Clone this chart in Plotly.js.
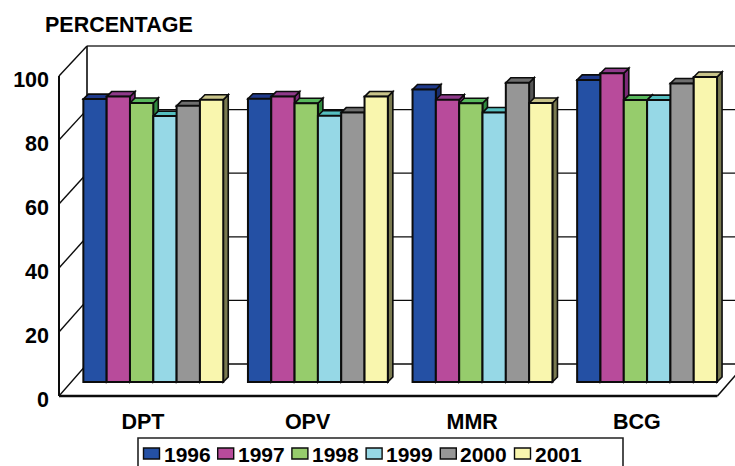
<!DOCTYPE html>
<html><head><meta charset="utf-8">
<script src="https://cdn.plot.ly/plotly-3.0.1.min.js"></script>
<style>html,body{margin:0;padding:0;background:#fff;overflow:hidden}#c{width:735px;height:466px}</style>
</head><body><div id="c"></div>
<script>
var categories = ['DPT','OPV','MMR','BCG'];
var years = ['1996','1997','1998','1999','2000','2001'];
var v1996 = [88.4, 88.5, 91.4, 94.4];
var v1997 = [89.2, 89.2, 88.2, 96.5];
var v1998 = [87.2, 87.1, 87.1, 88.1];
var v1999 = [83.1, 83.2, 84.2, 88.1];
var v2000 = [86.3, 84.2, 93.5, 93.3];
var v2001 = [88.2, 89.2, 87.2, 95.3];
var seriesValues = [v1996, v1997, v1998, v1999, v2000, v2001];
var frontColors = ['#2450A4','#B84B9B','#96CC6C','#96D8E6','#969696','#F9F6AE'];
var topColors   = ['#1F3A8C','#8F3A8A','#58B85C','#55BFC0','#6E6E6E','#C9C48A'];
var sideColors  = ['#1A2D6E','#7C2A78','#2F8A3E','#3C9A9C','#555555','#7A7A50'];
var yTicks = [0,20,40,60,80,100];

var W=735, H=466, U=164.6, PY=3.2;
var FONT='"Liberation Sans", Arial, sans-serif';
var bargap=0.15, barW=(1-bargap)/6;
var depX=5/U, depY=5/PY;
var ink='#0c0c0c';

var xCenter0=153.3, yZero=382;      // bar plane
var xFront0=141.3, yFront0=396;     // front axis plane
function rangeX(c0){return [-c0/U,(W-c0)/U];}
function rangeY(z){return [(z-H)/PY,z/PY];}

var traces=years.map(function(y,s){
  return {type:'bar',name:y,x:categories.map(function(_,i){return i;}),y:seriesValues[s],
    marker:{color:frontColors[s],line:{color:ink,width:2}},showlegend:false,hoverinfo:'skip',xaxis:'x',yaxis:'y'};
});
traces.push({type:'scatter',mode:'none',x:[0],y:[0],xaxis:'x2',yaxis:'y2',showlegend:false,hoverinfo:'skip'});
traces.push({type:'scatter',mode:'none',x:[0],y:[0],xaxis:'x3',yaxis:'y3',showlegend:false,hoverinfo:'skip'});

var shapes=[];
function line(x0,y0,x1,y1,w,c){shapes.push({type:'line',xref:'x2',yref:'y2',layer:'below',x0:x0,y0:y0,x1:x1,y1:y1,line:{color:c||ink,width:w}});}
var L=-0.5,R=3.5,WX=28/U,WY=10,WS=318/320;
yTicks.forEach(function(t){
  var by=WY+t*WS;
  line(L,t,L+WX,by,1.4);
  if(t>0)line(L+WX,by,R+WX,by,t===100?1.6:1.3,t===100?'#333':ink);
});
line(L+WX,WY,R+WX,WY,1.6);
line(L+WX,WY,L+WX,WY+100*WS,1.6);
line(R,0,R+WX,WY,1.6);
line(L,0,L,100,2);
line(L,0,R,0,2.4);

function poly(pts,fill){
  var d=pts.map(function(p,i){return (i?'L':'M')+p[0]+','+p[1];}).join(' ')+' Z';
  shapes.push({type:'path',xref:'x',yref:'y',layer:'below',path:d,fillcolor:fill,line:{color:ink,width:1.6}});
}
seriesValues.forEach(function(vals,s){
  vals.forEach(function(v,i){
    var x0=i-(1-bargap)/2+s*barW, x1=x0+barW;
    poly([[x1,0],[x1+depX,depY],[x1+depX,v+depY],[x1,v]],sideColors[s]);
    poly([[x0,v],[x0+depX,v+depY],[x1+depX,v+depY],[x1,v]],topColors[s]);
  });
});

function px(x){return x/W;} function py(y){return 1-y/H;}
shapes.push({type:'rect',xref:'paper',yref:'paper',layer:'above',x0:px(138),x1:px(623),y0:py(438),y1:py(472),fillcolor:'#fff',line:{color:'#222',width:1.6}});
var annotations=[];
years.forEach(function(y,s){
  var sx=143.5+s*74.2;
  shapes.push({type:'rect',xref:'paper',yref:'paper',layer:'above',x0:px(sx),x1:px(sx+16),y0:py(448),y1:py(459),fillcolor:frontColors[s],line:{color:ink,width:1.4}});
  annotations.push({xref:'paper',yref:'paper',x:px(sx+20),y:py(454.5),xanchor:'left',yanchor:'middle',showarrow:false,text:y,
    font:{family:FONT,size:21,color:'#000',weight:700},borderpad:0,borderwidth:0});
});

var tf={family:FONT,size:21.5,color:'#000',weight:700};
var layout={width:W,height:H,margin:{l:0,r:0,t:0,b:0,pad:0},paper_bgcolor:'#fff',plot_bgcolor:'#fff',
  barmode:'group',bargap:bargap,bargroupgap:0,showlegend:false,
  title:{text:'PERCENTAGE',x:45/W,xanchor:'left',xref:'paper',y:1-24/H,yanchor:'middle',font:tf,pad:{l:0,r:0,t:0,b:0}},
  xaxis:{domain:[0,1],range:rangeX(xCenter0),visible:false,fixedrange:true},
  yaxis:{domain:[0,1],range:rangeY(yZero),visible:false,fixedrange:true},
  xaxis2:{domain:[0,1],overlaying:'x',range:rangeX(xFront0),visible:false,fixedrange:true},
  yaxis2:{domain:[0,1],overlaying:'y',range:rangeY(yFront0),visible:false,fixedrange:true},
  xaxis3:{domain:[0,1],overlaying:'x',range:rangeX(xFront0+1.7),anchor:'free',position:1-yFront0/H,side:'bottom',
    tickmode:'array',tickvals:[0,1,2,3],ticktext:categories,ticks:'',showline:false,showgrid:false,zeroline:false,tickfont:tf,ticklabelstandoff:10,fixedrange:true},
  yaxis3:{domain:[0,1],overlaying:'y',range:rangeY(yFront0+3),anchor:'free',position:59/W,side:'left',
    tickmode:'array',tickvals:yTicks,ticktext:yTicks.map(String),ticks:'',showline:false,showgrid:false,zeroline:false,tickfont:tf,ticklabelstandoff:10,fixedrange:true},
  shapes:shapes,annotations:annotations};
Plotly.newPlot('c',traces,layout,{displayModeBar:false,staticPlot:true});
</script></body></html>
